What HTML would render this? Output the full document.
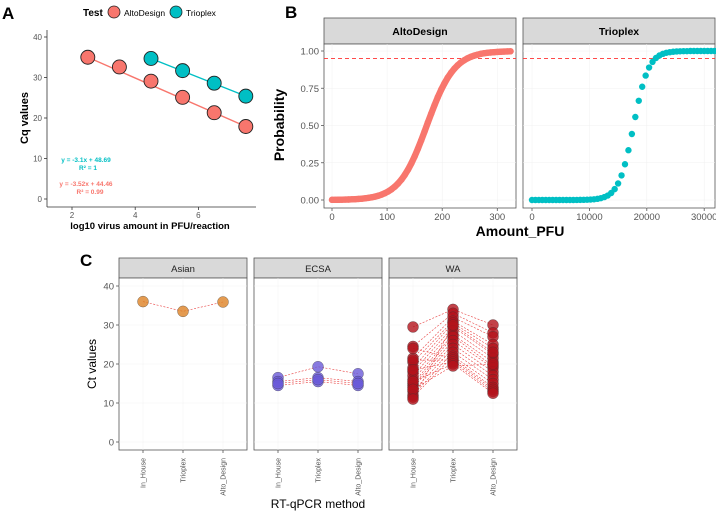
<!DOCTYPE html>
<html><head><meta charset="utf-8"><style>
body{margin:0;background:#fff}
svg{font-family:"Liberation Sans",Arial,sans-serif;display:block}
</style></head><body>
<svg id="fig" width="716" height="511" viewBox="0 0 716 511" xmlns="http://www.w3.org/2000/svg">
<g id="gA"></g>
<g id="gB"></g>
<g id="gC"></g>
</svg>
<script>
// ---- Panel A data ----
const aAltoX = [2.5,3.5,4.5,5.5,6.5,7.5];
const aAltoY = [35,32.6,29.1,25.1,21.3,17.9];
const aTrioX = [4.5,5.5,6.5,7.5];
const aTrioY = [34.7,31.7,28.6,25.4];
const aXTicks = [2,4,6];
const aYTicks = [0,10,20,30,40];
// ---- Panel B data ----
const bAltoX = [0,6,12,18,24,30,36,42,48,54,60,66,72,78,84,90,96,102,108,114,120,126,132,138,144,150,156,162,168,174,180,186,192,198,204,210,216,222,228,234,240,246,252,258,264,270,276,282,288,294,300,306,312,318,324];
const bAltoP = [.001,.0013,.0017,.0021,.0027,.0034,.0043,.0055,.007,.0088,.0112,.0142,.018,.0228,.0287,.0362,.0457,.0573,.0718,.0894,.111,.137,.168,.204,.246,.293,.345,.401,.46,.52,.579,.636,.69,.739,.782,.821,.853,.881,.904,.923,.938,.951,.961,.969,.975,.981,.985,.988,.99,.992,.994,.995,.996,.997,.998];
const bTrioX = [0,600,1200,1800,2400,3000,3600,4200,4800,5400,6000,6600,7200,7800,8400,9000,9600,10200,10800,11400,12000,12600,13200,13800,14400,15000,15600,16200,16800,17400,18000,18600,19200,19800,20400,21000,21600,22200,22800,23400,24000,24600,25200,25800,26400,27000,27600,28200,28800,29400,30000,30600,31200,31800];
const bTrioP = [0,0,0,0,0,0,0,0,0,0,0,0,0,.0004,.0008,.0012,.002,.0031,.0049,.0078,.0124,.0194,.03,.047,.073,.111,.165,.24,.334,.443,.557,.666,.76,.835,.889,.927,.953,.97,.981,.988,.992,.995,.997,.998,.999,.999,1,1,1,1,1,1,1,1];
const bYTicks = [0,0.25,0.5,0.75,1];
const bYLabels = ["0.00","0.25","0.50","0.75","1.00"];
const bAltoTicks = [0,100,200,300];
const bTrioTicks = [0,10000,20000,30000];
const bThreshold = 0.95;
// ---- Panel C data ----
const cMethods = ["In_House","Trioplex","Alto_Design"];
const cYTicks = [0,10,20,30,40];
const cAsian = [[36,33.5,35.9]];
const cECSA = [[16.5,19.3,17.5],[15.5,16.5,15.5],[14.5,15.5,14.5],[15,16,15]];
const cWAin = [29.5,24.5,21.5,20.5,19,18,17,16,15,14.5,14,13,12,11.5,24,21,18.5,15.5,13.5,11];
const cWAtr = [34,33,32,31,30.5,29.5,28.5,27.5,27,26,25,24,23,22,21.5,21,20.5,20,19.5,30];
const cWAal = [30,28,27,25,24,22.5,21.5,20.5,19.5,19,18,17,16,15,14,13.5,13,12.5,20,23];

const NS="http://www.w3.org/2000/svg";
function mk(p,tag,at,txt){const e=document.createElementNS(NS,tag);for(const k in at)e.setAttribute(k,at[k]);if(txt!==undefined)e.textContent=txt;p.appendChild(e);return e;}

// ===== Panel A =====
(function(){
const g=document.getElementById('gA');
const sx=v=>72+(v-2)*31.6, sy=v=>199-v*4.05;
let t=mk(g,'text',{x:2,y:19,'font-size':17,'font-weight':'bold'},'A');

t=mk(g,'text',{x:83,y:16,'font-size':10,'font-weight':'bold'},'Test');

let c=mk(g,'circle',{cx:114,cy:12,r:6,fill:'#F8766D',stroke:'#222','stroke-width':0.8});

t=mk(g,'text',{x:124,y:16,'font-size':8.5},'AltoDesign');

c=mk(g,'circle',{cx:176,cy:12,r:6,fill:'#00BFC4',stroke:'#222','stroke-width':0.8});

t=mk(g,'text',{x:186,y:16,'font-size':8.5},'Trioplex');

let l=mk(g,'line',{x1:47,y1:30,x2:47,y2:207,stroke:'#333','stroke-width':0.8});

l=mk(g,'line',{x1:47,y1:207,x2:256,y2:207,stroke:'#333','stroke-width':0.8});

aYTicks.forEach(v=>{mk(g,'line',{x1:44,x2:47,y1:sy(v),y2:sy(v),stroke:'#333','stroke-width':0.8});
 t=mk(g,'text',{x:42,y:sy(v)+3,'font-size':8,fill:'#555','text-anchor':'end'},v);
 });
aXTicks.forEach(v=>{mk(g,'line',{x1:sx(v),x2:sx(v),y1:207,y2:210,stroke:'#333','stroke-width':0.8});
 t=mk(g,'text',{x:sx(v),y:218,'font-size':8,fill:'#555','text-anchor':'middle'},v);
 });
t=mk(g,'text',{x:150,y:229,'font-size':9.5,'font-weight':'bold','text-anchor':'middle'},'log10 virus amount in PFU/reaction');

t=mk(g,'text',{x:0,y:0,'font-size':11,'font-weight':'bold','text-anchor':'middle',transform:'translate(28,118) rotate(-90)'},'Cq values');

function series(xs,ys,col,name){
 const p=mk(g,'line',{x1:sx(xs[0]),y1:sy(ys[0]),x2:sx(xs[xs.length-1]),y2:sy(ys[ys.length-1]),stroke:col,'stroke-width':1.4});
 
 xs.forEach((x,i)=>{const c=mk(g,'circle',{cx:sx(x),cy:sy(ys[i]),r:7,fill:col,stroke:'#222','stroke-width':0.9});
  });
}
series(aAltoX,aAltoY,'#F8766D','altodesign');
series(aTrioX,aTrioY,'#00BFC4','trioplex');
t=mk(g,'text',{x:86,y:162,'font-size':6.5,'font-weight':'bold',fill:'#00BFC4','text-anchor':'middle'},'y = -3.1x + 48.69');

t=mk(g,'text',{x:88,y:170,'font-size':6.5,'font-weight':'bold',fill:'#00BFC4','text-anchor':'middle'},'R² = 1');

t=mk(g,'text',{x:86,y:186,'font-size':6.5,'font-weight':'bold',fill:'#F8766D','text-anchor':'middle'},'y = -3.52x + 44.46');

t=mk(g,'text',{x:90,y:194,'font-size':6.5,'font-weight':'bold',fill:'#F8766D','text-anchor':'middle'},'R² = 0.99');

})();

// ===== Panel B =====
(function(){
const g=document.getElementById('gB');
const sy=v=>200-v*149;
let t=mk(g,'text',{x:285,y:18,'font-size':17,'font-weight':'bold'},'B');

function facet(x0,x1,title,xs,ps,ticks,sx,col,name,band){
 let s=mk(g,'rect',{x:x0,y:18,width:x1-x0,height:26,fill:'#d9d9d9',stroke:'#555','stroke-width':0.8});
 
 t=mk(g,'text',{x:(x0+x1)/2,y:35,'font-size':10.5,'font-weight':'bold','text-anchor':'middle'},title);
 
 s=mk(g,'rect',{x:x0,y:44,width:x1-x0,height:164,fill:'#fff',stroke:'#555','stroke-width':0.8});
 
 bYTicks.forEach(v=>mk(g,'line',{x1:x0,x2:x1,y1:sy(v),y2:sy(v),stroke:'#f0f0f0','stroke-width':0.5}));
 ticks.forEach(v=>{mk(g,'line',{x1:sx(v),x2:sx(v),y1:44,y2:208,stroke:'#f0f0f0','stroke-width':0.5});
  mk(g,'line',{x1:sx(v),x2:sx(v),y1:208,y2:211,stroke:'#555','stroke-width':0.8});
  t=mk(g,'text',{x:sx(v),y:220,'font-size':9.5,fill:'#555','text-anchor':'middle'},v);
  });
 const d=mk(g,'line',{x1:x0,x2:x1,y1:sy(bThreshold),y2:sy(bThreshold),stroke:'#ff3030','stroke-width':0.9,'stroke-dasharray':'4,3'});
 
 if(band){const pl=mk(g,'polyline',{points:xs.map((x,i)=>sx(x)+','+sy(ps[i])).join(' '),fill:'none',stroke:col,'stroke-width':6.4,'stroke-linecap':'round','stroke-linejoin':'round'});
  }
 xs.forEach((x,i)=>{const c=mk(g,'circle',{cx:sx(x),cy:sy(ps[i]),r:3.2,fill:col});
  });
}
facet(324,516,'AltoDesign',bAltoX,bAltoP,bAltoTicks,v=>332+v*0.551,'#F8766D','altodesign',true);
facet(523,715,'Trioplex',bTrioX,bTrioP,bTrioTicks,v=>532+v*0.00574,'#00BFC4','trioplex',false);
bYTicks.forEach((v,i)=>{mk(g,'line',{x1:321,x2:324,y1:sy(v),y2:sy(v),stroke:'#555','stroke-width':0.8});
 t=mk(g,'text',{x:319,y:sy(v)+3.5,'font-size':9.5,fill:'#555','text-anchor':'end'},bYLabels[i]);
 });
t=mk(g,'text',{x:0,y:0,'font-size':14,'font-weight':'bold','text-anchor':'middle',transform:'translate(284,125) rotate(-90)'},'Probability');

t=mk(g,'text',{x:520,y:236,'font-size':14,'font-weight':'bold','text-anchor':'middle'},'Amount_PFU');

})();

// ===== Panel C =====
(function(){
const g=document.getElementById('gC');
const sy=v=>442-v*3.9;
let t=mk(g,'text',{x:80,y:266,'font-size':17,'font-weight':'bold'},'C');

function facet(x0,title,samples,col,name){
 const x1=x0+128, px=i=>x0+24+i*40;
 let s=mk(g,'rect',{x:x0,y:258,width:128,height:20,fill:'#d9d9d9',stroke:'#555','stroke-width':0.8});
 
 t=mk(g,'text',{x:x0+64,y:272,'font-size':9.5,fill:'#222','text-anchor':'middle'},title);
 
 s=mk(g,'rect',{x:x0,y:278,width:128,height:172,fill:'#fff',stroke:'#555','stroke-width':0.8});
 
 cYTicks.forEach(v=>mk(g,'line',{x1:x0,x2:x1,y1:sy(v),y2:sy(v),stroke:'#f2f2f2','stroke-width':0.5}));
 cMethods.forEach((m,i)=>{mk(g,'line',{x1:px(i),x2:px(i),y1:278,y2:450,stroke:'#f2f2f2','stroke-width':0.5});
  mk(g,'line',{x1:px(i),x2:px(i),y1:450,y2:453,stroke:'#555','stroke-width':0.8});
  t=mk(g,'text',{x:0,y:0,'font-size':7,fill:'#555','text-anchor':'end',transform:'translate('+(px(i)+2.5)+',458) rotate(-90)'},m);
  });
 samples.forEach(sm=>{const p=mk(g,'polyline',{points:sm.map((v,i)=>px(i)+','+sy(v)).join(' '),fill:'none',stroke:'#e84040','stroke-width':0.6,'stroke-dasharray':'2,1.5'});
  });
 samples.forEach(sm=>sm.forEach((v,i)=>{const c=mk(g,'circle',{cx:px(i),cy:sy(v),r:5.5,fill:col,'fill-opacity':0.8,stroke:'#333','stroke-width':0.5,'stroke-opacity':0.6});
  }));
}
facet(119,'Asian',cAsian,'#DD8224','asian');
facet(254,'ECSA',cECSA,'#6A5AD8','ecsa');
const wa=cWAin.map((v,i)=>[v,cWAtr[i],cWAal[i]]);
facet(389,'WA',wa,'#B3131B','wa');
cYTicks.forEach(v=>{mk(g,'line',{x1:116,x2:119,y1:sy(v),y2:sy(v),stroke:'#555','stroke-width':0.8});
 t=mk(g,'text',{x:114,y:sy(v)+3.5,'font-size':9.5,fill:'#555','text-anchor':'end'},v);
 });
t=mk(g,'text',{x:0,y:0,'font-size':12,'text-anchor':'middle',transform:'translate(96,364) rotate(-90)'},'Ct values');

t=mk(g,'text',{x:318,y:508,'font-size':12,'text-anchor':'middle'},'RT-qPCR method');

})();
</script>
</body></html>
